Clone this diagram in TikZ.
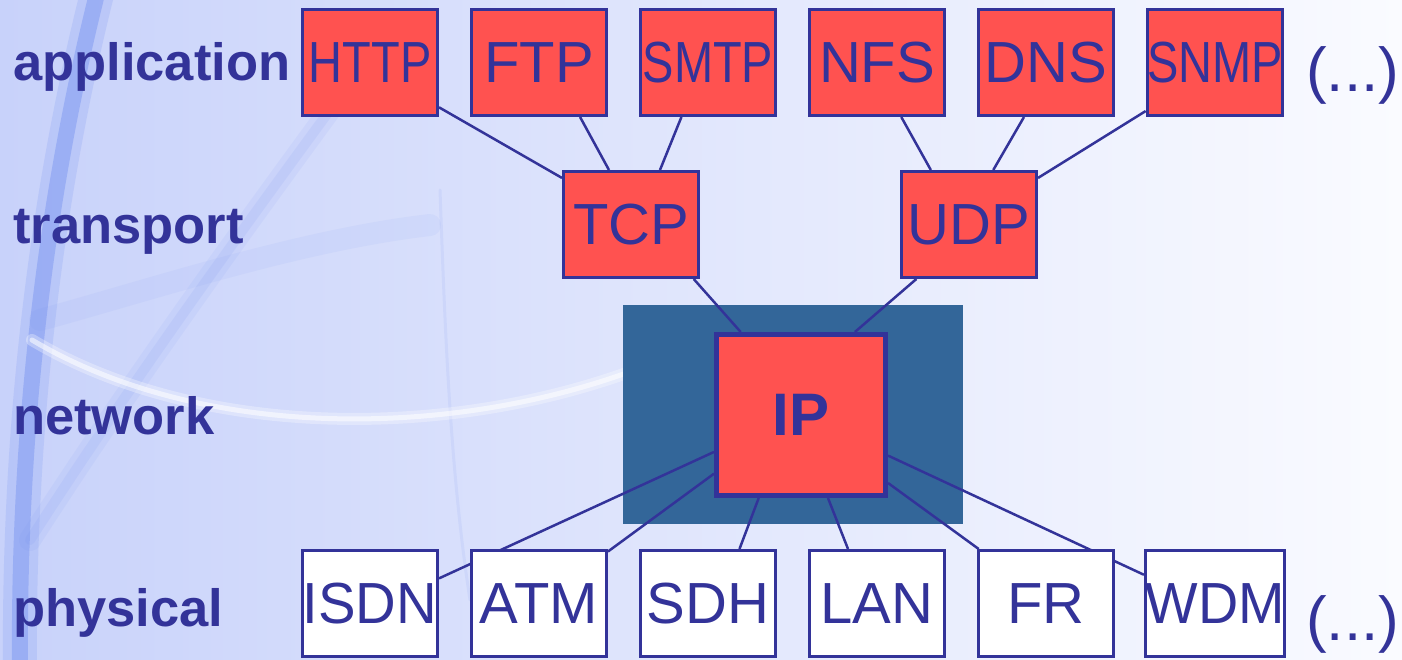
\documentclass[tikz,border=0pt]{standalone}
\usepackage{fontspec}
\usepackage{graphicx}
\setmainfont{Liberation Sans}
\pgfdeclarelayer{bg}
\pgfdeclarelayer{lines}
\pgfsetlayers{bg,lines,main}
\definecolor{navy}{RGB}{51,51,153}
\definecolor{boxred}{RGB}{255,82,80}
\definecolor{ipblue}{RGB}{51,102,153}
\definecolor{bgL}{RGB}{200,210,250}
\definecolor{bgM}{RGB}{236,240,253}
\definecolor{bgR}{RGB}{250,251,255}
\definecolor{arcblue}{RGB}{110,140,240}
\tikzset{
  proto/.style={draw=navy, line width=3pt, fill=boxred, text=navy,
    minimum width=135pt, minimum height=106pt, inner sep=0pt,
    font=\fontsize{58}{60}\selectfont},
  phys/.style={proto, fill=white},
  ipbox/.style={draw=navy, line width=5pt, fill=boxred, text=navy,
    minimum width=169pt, minimum height=161pt, inner sep=0pt,
    font=\fontsize{60}{62}\selectfont\bfseries},
  layerlabel/.style={anchor=base west, text=navy, inner sep=0pt,
    font=\fontsize{52.5}{54}\selectfont\bfseries},
  etc/.style={anchor=base west, text=navy, inner sep=0pt,
    font=\fontsize{62}{64}\selectfont},
  link/.style={draw=navy, line width=2.5pt},
  deco/.style={line cap=round}
}
\newcommand{\squeeze}[1]{\scalebox{0.81}[1]{#1}}
\begin{document}
\begin{tikzpicture}[x=1pt,y=-1pt]
\useasboundingbox (0,0) rectangle (1402,660);
\begin{pgfonlayer}{bg}
  \shade[left color=bgL, middle color=bgM, right color=bgR] (0,0) rectangle (1402,660);
  % decorative background arcs (soft)
  \draw[deco, arcblue, line width=34pt, opacity=0.18] (98,-10) .. controls (45,200) and (18,430) .. (20,670);
  \draw[deco, arcblue, line width=16pt, opacity=0.40] (98,-10) .. controls (45,200) and (18,430) .. (20,670);
  \draw[deco, arcblue, line width=22pt, opacity=0.08] (30,540) .. controls (120,400) and (220,260) .. (330,110);
  \draw[deco, arcblue, line width=10pt, opacity=0.10] (30,540) .. controls (120,400) and (220,260) .. (330,110);
  \draw[deco, arcblue, line width=22pt, opacity=0.07] (40,320) .. controls (150,290) and (300,240) .. (430,225);
  \draw[deco, arcblue, line width=3pt, opacity=0.10] (440,190) .. controls (445,330) and (450,470) .. (470,600);
  \draw[deco, white, line width=12pt, opacity=0.30] (32,340) .. controls (200,440) and (450,440) .. (640,368);
  \draw[deco, white, line width=5pt, opacity=0.55] (32,340) .. controls (200,440) and (450,440) .. (640,368);
  % network highlight
  \fill[ipblue] (623,305) rectangle (963,524);
\end{pgfonlayer}

% layer labels
\node[layerlabel] (lapp) at (13,81) {application};
\node[layerlabel] (ltra) at (13,244) {transport};
\node[layerlabel] (lnet) at (13,434) {network};
\node[layerlabel] (lphy) at (13,626) {physical};

% application
\node[proto] (http) at (370,62.5) {\squeeze{HTTP}};
\node[proto] (ftp)  at (539,62.5) {FTP};
\node[proto] (smtp) at (708,62.5) {\squeeze{SMTP}};
\node[proto] (nfs)  at (877,62.5) {NFS};
\node[proto] (dns)  at (1046,62.5) {DNS};
\node[proto] (snmp) at (1215,62.5) {\squeeze{SNMP}};
\node[etc] (etctop) at (1306,92) {(...)};

% transport
\node[proto] (tcp) at (631,224.5) {TCP};
\node[proto] (udp) at (969,224.5) {UDP};

% network
\node[ipbox] (ip) at (801,415) {IP};

% physical
\node[phys] (isdn) at (370,603.5) {\scalebox{0.97}[1]{ISDN}};
\node[phys] (atm)  at (539,603.5) {ATM};
\node[phys] (sdh)  at (708,603.5) {SDH};
\node[phys] (lan)  at (877,603.5) {LAN};
\node[phys] (fr)   at (1046,603.5) {FR};
\node[phys] (wdm)  at (1215,603.5) {\scalebox{0.96}[1]{WDM}};
\node[etc] (etcbot) at (1306,640) {(...)};

\begin{pgfonlayer}{lines}
  \draw[link] (http.-33.4) -- (tcp.146.7);
  \draw[link] (ftp.-53.7) -- (tcp.112.9);
  \draw[link] (smtp.-116.4) -- (tcp.62.0);
  \draw[link] (nfs.-66.6) -- (udp.125.2);
  \draw[link] (dns.-112.9) -- (udp.66.2);
  \draw[link] (snmp.-145.1) -- (udp.34.0);
  \draw[link] (tcp.-41.6) -- (ip.126.3);
  \draw[link] (udp.-134.5) -- (ip.57.4);
  \draw[link] (ip.-157.1) -- (isdn.20.9);
  \draw[link] (ip.-146.3) -- (atm.37.8);
  \draw[link] (ip.-117.4) -- (sdh.60.7);
  \draw[link] (ip.-72.0) -- (lan.118.6);
  \draw[link] (ip.-38.0) -- (fr.141.6);
  \draw[link] (ip.-25.6) -- (wdm.158.7);
\end{pgfonlayer}
\end{tikzpicture}
\end{document}
